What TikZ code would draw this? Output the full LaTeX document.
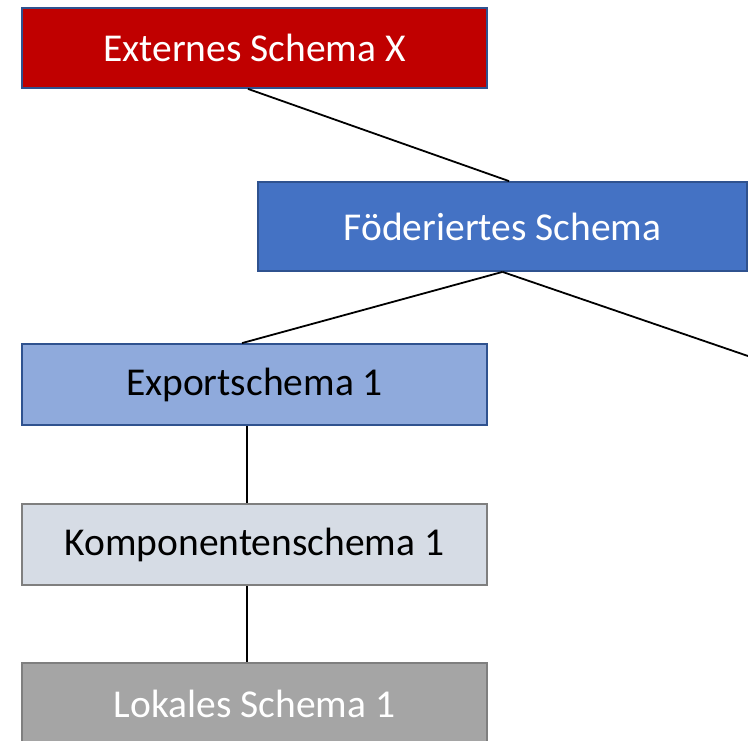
\documentclass[tikz,border=0pt]{standalone}
\usepackage{fontspec}
\setmainfont{Carlito}
\definecolor{exred}{HTML}{C00000}
\definecolor{fedblue}{HTML}{4472C4}
\definecolor{expblue}{HTML}{8FAADC}
\definecolor{compgray}{HTML}{D6DCE5}
\definecolor{locgray}{HTML}{A5A5A5}
\definecolor{edgeblue}{HTML}{2F528F}
\definecolor{edgegray}{HTML}{7F7F7F}
\begin{document}
\begin{tikzpicture}[x=1pt,y=-1pt,
  schemabox/.style={rectangle, draw=edgeblue, line width=1.8pt, inner sep=0pt,
    minimum width=465pt, minimum height=81pt,
    font=\fontsize{39.5}{47}\selectfont},
  link/.style={draw=black, line width=1.8pt}]
  \useasboundingbox (0,0) rectangle (748,741);
  \clip (0,0) rectangle (748,741);

  \node[schemabox, fill=exred, text=white, minimum height=80pt] (ext) at (254.5,48) {Externes Schema X};
  \node[schemabox, fill=fedblue, text=white, minimum width=489pt, minimum height=89pt] (fed) at (502.5,226.5) {Föderiertes Schema};
  \node[schemabox, fill=expblue, text=black] (exp) at (254.5,384.5) {Exportschema 1};
  \node[schemabox, fill=compgray, draw=edgegray, text=black] (comp) at (254.5,544.5) {Komponentenschema 1};
  \node[schemabox, fill=locgray, draw=edgegray, text=white] (loc) at (254.5,703.5) {Lokales Schema 1};

  \coordinate (fedright) at (750,356.7);

  \draw[link] ([xshift=-6.5pt]ext.south) -- ([xshift=6.5pt]fed.north);
  \draw[link] (fed.south) -- ([xshift=-12.5pt]exp.north);
  \draw[link] (fed.south) -- (fedright);
  \draw[link] ([xshift=-7.5pt]exp.south) -- ([xshift=-7.5pt]comp.north);
  \draw[link] ([xshift=-7.5pt]comp.south) -- ([xshift=-7.5pt]loc.north);
\end{tikzpicture}
\end{document}
